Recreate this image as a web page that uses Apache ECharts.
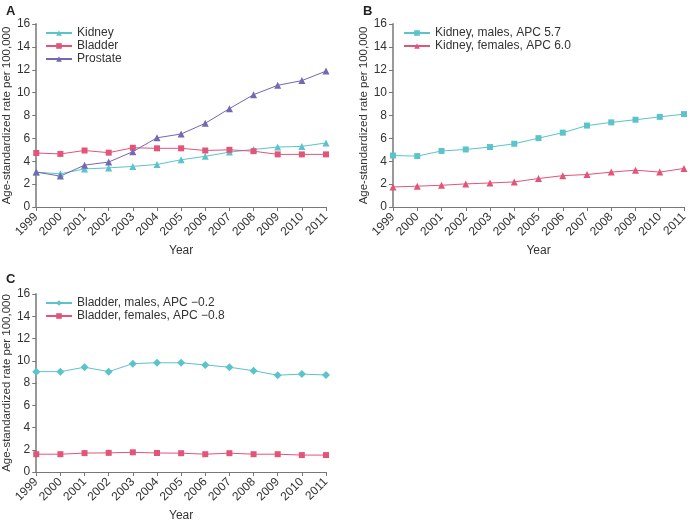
<!DOCTYPE html>
<html>
<head>
<meta charset="utf-8">
<script src="https://cdn.jsdelivr.net/npm/echarts@6/dist/echarts.min.js"></script>
<style>html,body{margin:0;padding:0;background:#fff}#c{width:691px;height:523px}</style>
</head>
<body>
<div id="c"></div>
<script>
var years = ['1999','2000','2001','2002','2003','2004','2005','2006','2007','2008','2009','2010','2011'];
var yTicks = [0, 16, 2];

// Panel A
var kidney   = [3.05, 2.9, 3.33, 3.42, 3.55, 3.72, 4.13, 4.43, 4.8, 5.03, 5.24, 5.3, 5.6];
var bladder  = [4.72, 4.64, 4.94, 4.75, 5.18, 5.13, 5.13, 4.94, 5.0, 4.88, 4.6, 4.6, 4.6];
var prostate = [3.05, 2.7, 3.66, 3.93, 4.84, 6.05, 6.38, 7.32, 8.6, 9.82, 10.64, 11.05, 11.88];

// Panel B
var kidneyMales   = [4.5, 4.45, 4.9, 5.03, 5.24, 5.53, 6.02, 6.5, 7.12, 7.4, 7.63, 7.88, 8.12];
var kidneyFemales = [1.75, 1.82, 1.9, 2.02, 2.1, 2.19, 2.49, 2.74, 2.84, 3.05, 3.22, 3.05, 3.37];

// Panel C
var bladderMales   = [9.02, 9.02, 9.42, 9.02, 9.74, 9.82, 9.82, 9.62, 9.42, 9.1, 8.7, 8.8, 8.72];
var bladderFemales = [1.6, 1.6, 1.7, 1.72, 1.77, 1.71, 1.69, 1.6, 1.69, 1.6, 1.6, 1.52, 1.52];

var names = {
  a: ['Kidney', 'Bladder', 'Prostate'],
  b: ['Kidney, males, APC 5.7', 'Kidney, females, APC 6.0'],
  c: ['Bladder, males, APC \u22120.2', 'Bladder, females, APC \u22120.8']
};

var CYAN = '#5bc4ca', RED = '#e3547a', PURPLE = '#7468b2';
var FONT = 'Liberation Sans';
var yName = 'Age-standardized rate per 100,000';

var grids = [
  {left: 34, right: 365, top: 24, height: 183},
  {left: 393, right: 7, top: 24, height: 183},
  {left: 34, right: 365, top: 294, height: 183}
];

function xAxis(i) {
  return {
    type: 'category', gridIndex: i, data: years, boundaryGap: false,
    name: 'Year', nameLocation: 'middle', nameGap: 38,
    nameTextStyle: {fontFamily: FONT, fontSize: 12, color: '#333'},
    axisLine: {lineStyle: {color: '#777', width: 1}},
    axisTick: {show: true, length: 4, alignWithLabel: true, lineStyle: {color: '#777'}},
    axisLabel: {rotate: 45, fontFamily: FONT, fontSize: 12, color: '#333', margin: 8, interval: 0},
    splitLine: {show: false}
  };
}
function yAxis(i) {
  return {
    type: 'value', gridIndex: i, min: yTicks[0], max: yTicks[1], interval: yTicks[2],
    name: yName, nameLocation: 'middle', nameGap: 21, nameRotate: 90,
    nameTextStyle: {fontFamily: FONT, fontSize: 11.5, color: '#333'},
    axisLine: {show: true, lineStyle: {color: '#999', width: 2}},
    axisTick: {show: true, length: 4, lineStyle: {color: '#777'}},
    axisLabel: {fontFamily: FONT, fontSize: 12, color: '#333', margin: 6},
    splitLine: {show: false}
  };
}
function line(name, data, i, color, symbol, size) {
  return {
    type: 'line', name: name, data: data, xAxisIndex: i, yAxisIndex: i,
    symbol: symbol, symbolSize: size, showSymbol: true,
    lineStyle: {color: color, width: 1},
    itemStyle: {color: color},
    emphasis: {disabled: true},
    animation: false
  };
}
function legend(data, left, top) {
  return {
    data: data, orient: 'vertical', left: left, top: top,
    itemWidth: 26, itemHeight: 7, itemGap: 1, padding: 0,
    textStyle: {fontFamily: FONT, fontSize: 12, color: '#333', lineHeight: 12}
  };
}

var chart = echarts.init(document.getElementById('c'), null, {renderer: 'canvas'});
chart.setOption({
  backgroundColor: '#fff',
  animation: false,
  title: [
    {text: 'A', left: 1, top: 0, textStyle: {fontFamily: FONT, fontSize: 13, fontWeight: 'bold', color: '#222'}},
    {text: 'B', left: 358, top: 0, textStyle: {fontFamily: FONT, fontSize: 13, fontWeight: 'bold', color: '#222'}},
    {text: 'C', left: 1, top: 268, textStyle: {fontFamily: FONT, fontSize: 13, fontWeight: 'bold', color: '#222'}}
  ],
  legend: [
    legend(names.a, 45, 27),
    legend(names.b, 403, 27),
    legend(names.c, 45, 297)
  ],
  grid: grids,
  xAxis: [xAxis(0), xAxis(1), xAxis(2)],
  yAxis: [yAxis(0), yAxis(1), yAxis(2)],
  series: [
    line(names.a[0], kidney, 0, CYAN, 'triangle', 7),
    line(names.a[1], bladder, 0, RED, 'rect', 6),
    line(names.a[2], prostate, 0, PURPLE, 'triangle', 7),
    line(names.b[0], kidneyMales, 1, CYAN, 'rect', 6),
    line(names.b[1], kidneyFemales, 1, RED, 'triangle', 7),
    line(names.c[0], bladderMales, 2, CYAN, 'diamond', 8),
    line(names.c[1], bladderFemales, 2, RED, 'rect', 6)
  ]
});
</script>
</body>
</html>
